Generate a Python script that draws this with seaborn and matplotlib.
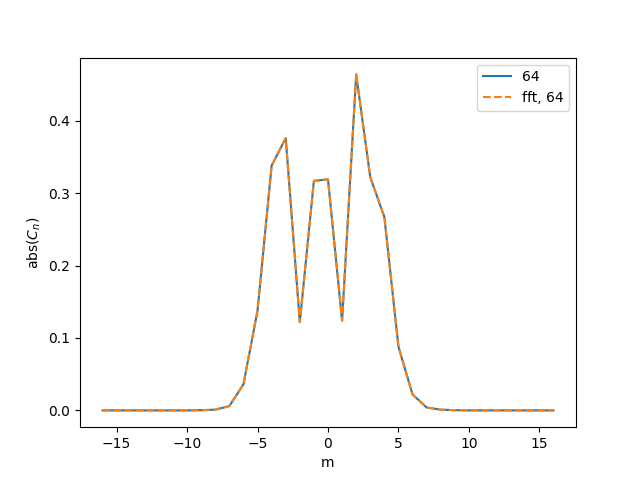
import numpy as np
import pandas as pd
import matplotlib
matplotlib.use("Agg")
import matplotlib.pyplot as plt
import seaborn as sns

# indices de Fourier
m = list(range(-16, 17))

# |C_n| (serie directa, N = 64)
cn_64 = [0.0, 0.0, 0.0, 0.0, 0.0, 0.0, 0.0, 0.0003,
         0.001, 0.006, 0.036, 0.138, 0.338, 0.376, 0.122, 0.317,
         0.319, 0.124, 0.464, 0.322, 0.267, 0.088, 0.022, 0.004,
         0.001, 0.0003, 0.0, 0.0, 0.0, 0.0, 0.0, 0.0, 0.0]

# |C_n| via fft (coincide con la serie directa)
cn_fft_64 = list(cn_64)

df = pd.DataFrame({"m": m, "directo": cn_64, "fft": cn_fft_64})

fig, ax = plt.subplots(figsize=(6.4, 4.8), dpi=100)
sns.lineplot(data=df, x="m", y="directo", ax=ax, color="C0", label="64")
sns.lineplot(data=df, x="m", y="fft", ax=ax, color="C1", linestyle="--", label="fft, 64")

ax.set_xlabel("m")
ax.set_ylabel(r"abs($C_n$)")
ax.legend(loc="upper right")

plt.savefig("out.png", dpi=100)
plt.close()
